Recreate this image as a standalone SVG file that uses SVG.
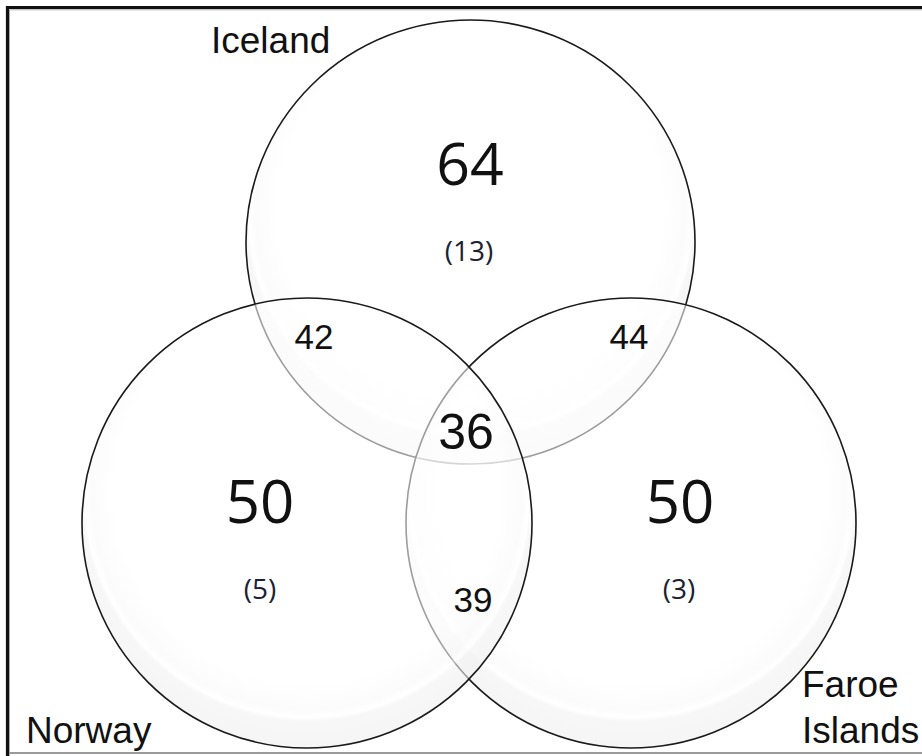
<svg xmlns="http://www.w3.org/2000/svg" width="922" height="756" viewBox="0 0 922 756">
  <style>
    .ring { stroke: #1a1a1a; stroke-width: 1.6; fill: url(#glass); }
    .lbl { font-family: "Liberation Sans", Arial, sans-serif; fill: #111; font-size: 37px; }
    .big { font-family: "Open Sans", "Noto Sans", sans-serif; fill: #111; text-anchor: middle; }
    .mid { font-family: "Liberation Sans", Arial, sans-serif; fill: #111; text-anchor: middle; }
    .sub { font-family: "Open Sans", "Noto Sans", sans-serif; fill: #1c2230; text-anchor: middle; }
  </style>
  <defs>
    <!-- soft glassy disc: white centre, faint grey rim with a light inner ring -->
    <radialGradient id="glass" cx="50%" cy="45%" r="55%" fx="50%" fy="35%">
      <stop offset="0%" stop-color="#ffffff" stop-opacity="0.55"/>
      <stop offset="78%" stop-color="#ffffff" stop-opacity="0.58"/>
      <stop offset="87%" stop-color="#f9f9f9" stop-opacity="0.62"/>
      <stop offset="89.5%" stop-color="#ffffff" stop-opacity="0.7"/>
      <stop offset="91%" stop-color="#f2f2f2" stop-opacity="0.6"/>
      <stop offset="100%" stop-color="#efefef" stop-opacity="0.6"/>
    </radialGradient>
  </defs>

  <rect x="0" y="0" width="922" height="756" fill="#ffffff"/>

  <!-- frame -->
  <g id="frame">
    <path d="M7.5 756 V7.5 H922" fill="none" stroke="#111" stroke-width="3.2"/>
    <path d="M9.5 756 V9.8 H922" fill="none" stroke="#999" stroke-width="0.8"/>
    <line x1="9" y1="753" x2="922" y2="753" stroke="#9a9a9a" stroke-width="2"/>
  </g>

  <!-- sets, drawn back to front -->
  <g id="iceland">
    <ellipse class="ring" cx="470.5" cy="242" rx="224.5" ry="222"/>
    <text class="lbl" x="211" y="53">Iceland</text>
  </g>
  <g id="faroe">
    <ellipse class="ring" cx="631" cy="523" rx="225" ry="225"/>
    <text class="lbl" x="802" y="697">Faroe</text>
    <text class="lbl" x="802" y="743">Islands</text>
  </g>
  <g id="norway">
    <ellipse class="ring" cx="307" cy="523" rx="225" ry="225"/>
    <text class="lbl" x="26" y="743">Norway</text>
  </g>

  <!-- region counts -->
  <g id="counts">
    <text class="big" x="470" y="185" font-size="59">64</text>
    <text class="sub" x="469" y="261" font-size="28">(13)</text>
    <text class="big" x="260" y="523" font-size="60">50</text>
    <text class="sub" x="260" y="599" font-size="28">(5)</text>
    <text class="big" x="680" y="523" font-size="60">50</text>
    <text class="sub" x="679" y="599" font-size="28">(3)</text>
    <text class="mid" x="314" y="349" font-size="35">42</text>
    <text class="mid" x="629" y="349" font-size="35">44</text>
    <text class="mid" x="466" y="449" font-size="50">36</text>
    <text class="mid" x="473" y="612" font-size="35">39</text>
  </g>
</svg>
